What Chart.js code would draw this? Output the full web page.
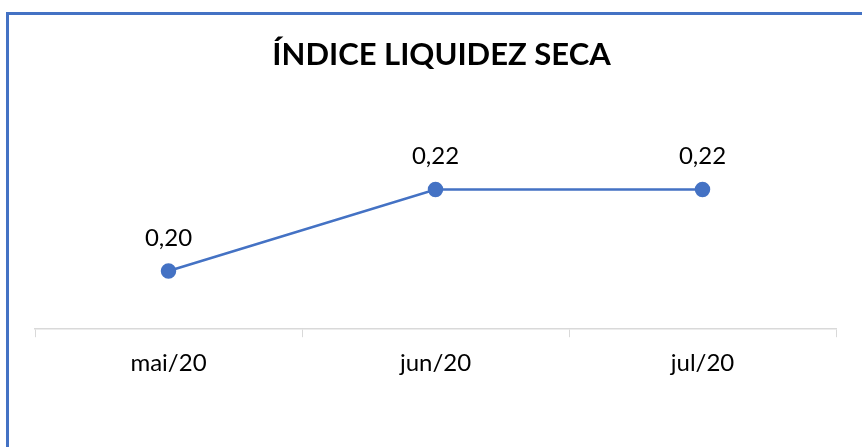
<!DOCTYPE html>
<html><head><meta charset="utf-8">
<script src="https://cdn.jsdelivr.net/npm/chart.js@4"></script>
<style>
html,body{margin:0;padding:0;background:#fff;}
#wrap{position:relative;width:862px;height:447px;}
#frame{position:absolute;left:6px;top:12px;right:0;bottom:0;border-top:3px solid #4472C4;border-left:3px solid #4472C4;pointer-events:none;}
canvas{position:absolute;left:0;top:0;}
</style></head>
<body>
<div id="wrap"><canvas id="c" width="862" height="447"></canvas><div id="frame"></div></div>
<script>
const categories = ['mai/20','jun/20','jul/20'];
const values = [0.20, 0.22, 0.22];
const valueLabels = ['0,20','0,22','0,22'];
const titleText = 'ÍNDICE LIQUIDEZ SECA';
const FONT = 'Lato, "Open Sans", sans-serif';

const labelPlugin = {
  id:'pointLabels',
  afterDatasetsDraw(chart){
    const ctx = chart.ctx;
    const meta = chart.getDatasetMeta(0);
    ctx.save();
    ctx.font = '24px ' + FONT;
    ctx.fillStyle = '#000';
    ctx.textAlign = 'center';
    ctx.textBaseline = 'middle';
    meta.data.forEach((pt,i)=>{
      ctx.fillText(valueLabels[i], pt.x, pt.y - 33);
    });
    ctx.font = 'bold 31px ' + FONT;
    ctx.fillText(titleText, 441.5, 55);
    ctx.restore();
  }
};

new Chart(document.getElementById('c'), {
  type:'line',
  data:{labels:categories, datasets:[{data:values, borderColor:'#4472C4', backgroundColor:'#4472C4', borderWidth:2.5, pointRadius:6.5, pointHoverRadius:6.5, tension:0}]},
  options:{
    responsive:false, animation:false,
    layout:{padding:{left:35,right:26,bottom:57,top:130}},
    plugins:{
      legend:{display:false}, tooltip:{enabled:false}, title:{display:false}
    },
    scales:{
      x:{offset:true, grid:{offset:true, drawOnChartArea:false, drawTicks:true, tickLength:8, color:'#d9d9d9'}, border:{color:'#d9d9d9', width:1.5},
         ticks:{color:'#000', font:{family:FONT, size:24}, padding:12}},
      y:{display:false, min:0.1857, max:0.2346}
    }
  },
  plugins:[labelPlugin]
});
</script>
</body></html>
